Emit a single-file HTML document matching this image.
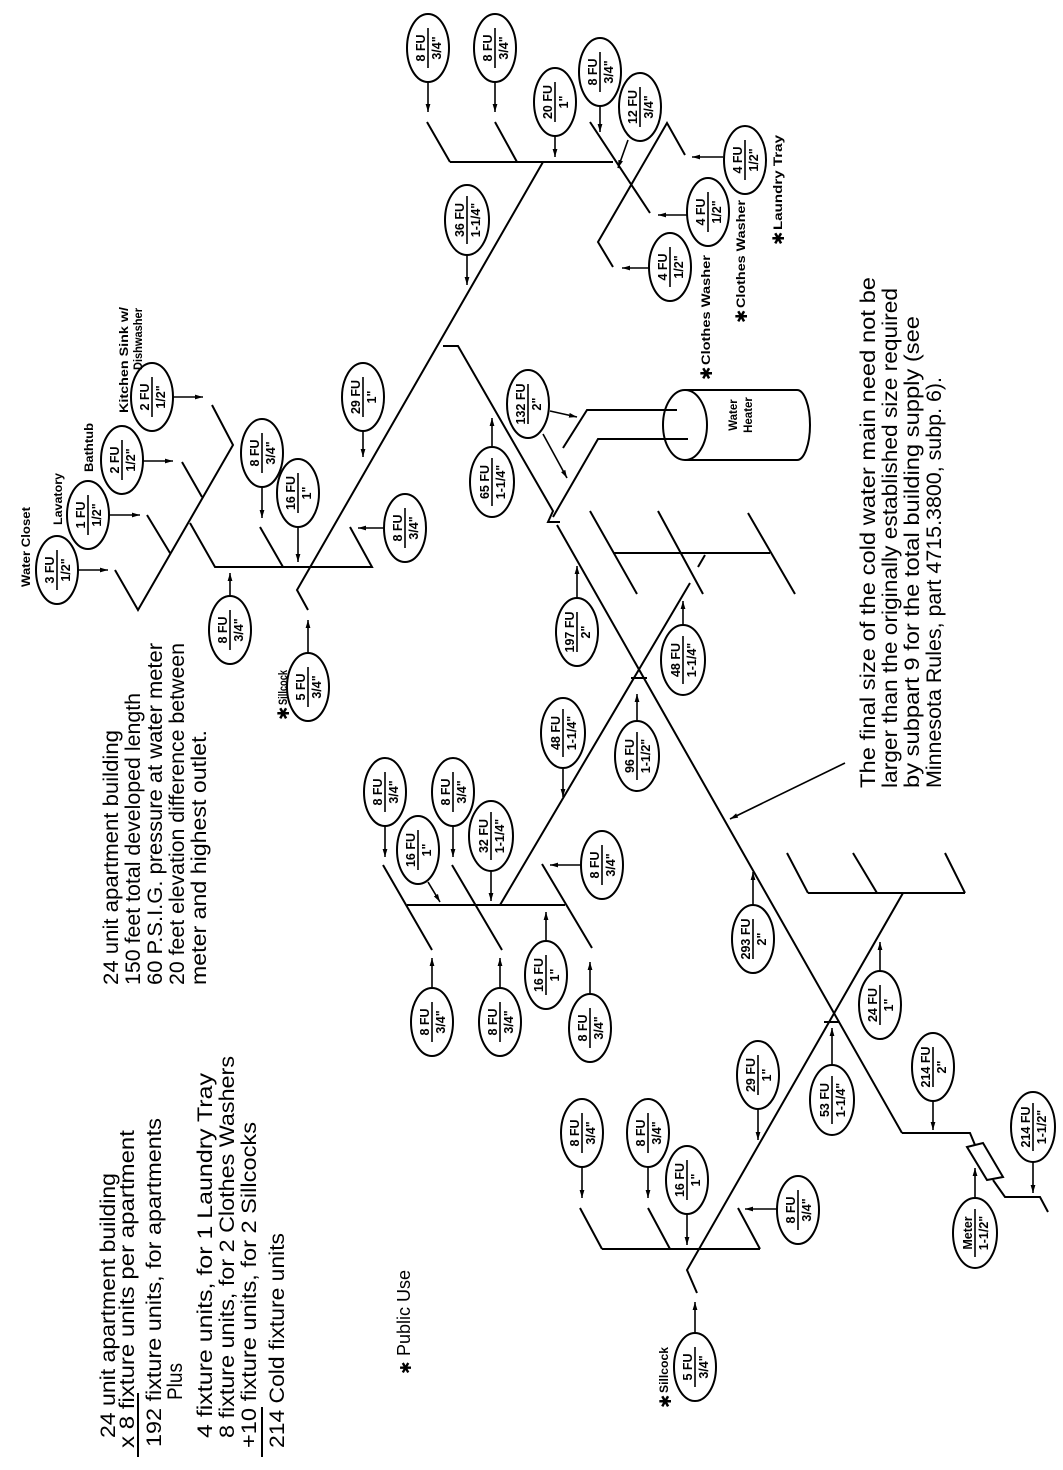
<!DOCTYPE html>
<html><head><meta charset="utf-8"><style>
html,body{margin:0;padding:0;background:#fff;}
svg{display:block;}
.p{fill:none;stroke:#000;stroke-width:2;}
.e ellipse{fill:#fff;stroke:#000;stroke-width:2;}
.e path{stroke:#000;stroke-width:1.6;}
.e text{font-family:"Liberation Sans",sans-serif;font-weight:bold;font-size:12.5px;text-anchor:middle;}
.t{font-family:"Liberation Sans",sans-serif;font-size:21px;}
.s{font-family:"Liberation Sans",sans-serif;font-size:11.5px;font-weight:bold;}
.a{stroke:#000;stroke-width:1.6;marker-end:url(#ah);}
</style></head><body>
<svg width="1063" height="1470" viewBox="0 0 1063 1470" xmlns="http://www.w3.org/2000/svg">
<defs><marker id="ah" viewBox="0 0 10 6" refX="10" refY="3" markerWidth="8" markerHeight="5" orient="auto" markerUnits="userSpaceOnUse"><path d="M0,0L10,3L0,6z" fill="#000"/></marker></defs>
<rect width="1063" height="1470" fill="#fff"/>

<g class="p">
<path d="M450,162H613M427,122L450,162M495,122L517,162M543,162L297,590L308,610"/>
<path d="M590,122L650,213M685,155L667,123L598,242L613,267"/>
<path d="M443,346H458L553,511L548,522H560M557,525L902,1133"/>
<path d="M563,448L587,410H677M553,517L598,439H688"/>
<path d="M613,553H770M590,511L637,594M658,511L703,594M748,513L795,594M698,567L705,555"/>
<path d="M690,583L500,905M631,678H647"/>
<path d="M407,905H565M383,865L432,950M452,865L502,950M542,864L592,948"/>
<path d="M808,893H965M787,853L808,893M853,853L877,893M945,853L965,893M903,893L687,1270L697,1293M824,1022H839"/>
<path d="M902,1133H970L975,1145M993,1180L1005,1197H1040L1048,1212"/>
<polygon points="967,1147 983,1143 1003,1177 987,1180"/>
<path d="M602,1249H760M580,1208L602,1249M648,1208L670,1249M738,1208L760,1249"/>
<path d="M115,570L138,610L233,445L212,405M147,515L170,553M182,462L202,497M190,523L215,567H372L350,527M260,527L283,567"/>
<path d="M685,390H797A13,35 0 0 1 797,460H685"/>
<ellipse cx="685" cy="425" rx="22" ry="35"/>
</g>

<g>
<line class="a" x1="428" y1="82" x2="428" y2="112"/>
<line class="a" x1="495" y1="82" x2="495" y2="112"/>
<line class="a" x1="555" y1="136" x2="555" y2="157"/>
<line class="a" x1="600" y1="106" x2="600" y2="132"/>
<line class="a" x1="628" y1="140" x2="618" y2="168"/>
<line class="a" x1="723" y1="157" x2="692" y2="157"/>
<line class="a" x1="687" y1="215" x2="658" y2="215"/>
<line class="a" x1="649" y1="268" x2="622" y2="268"/>
<line class="a" x1="467" y1="254" x2="467" y2="285"/>
<line class="a" x1="492" y1="448" x2="492" y2="418"/>
<line class="a" x1="550" y1="411" x2="577" y2="417"/>
<line class="a" x1="543" y1="434" x2="567" y2="478"/>
<line class="a" x1="577" y1="598" x2="577" y2="566"/>
<line class="a" x1="683" y1="626" x2="683" y2="601"/>
<line class="a" x1="637" y1="722" x2="637" y2="694"/>
<line class="a" x1="563" y1="769" x2="563" y2="797"/>
<line class="a" x1="581" y1="865" x2="550" y2="865"/>
<line class="a" x1="385" y1="826" x2="385" y2="857"/>
<line class="a" x1="428" y1="882" x2="440" y2="902"/>
<line class="a" x1="453" y1="826" x2="453" y2="857"/>
<line class="a" x1="491" y1="870" x2="491" y2="901"/>
<line class="a" x1="432" y1="988" x2="432" y2="958"/>
<line class="a" x1="500" y1="988" x2="500" y2="958"/>
<line class="a" x1="546" y1="941" x2="546" y2="912"/>
<line class="a" x1="590" y1="994" x2="590" y2="962"/>
<line class="a" x1="753" y1="905" x2="753" y2="872"/>
<line class="a" x1="880" y1="971" x2="880" y2="942"/>
<line class="a" x1="933" y1="1101" x2="933" y2="1130"/>
<line class="a" x1="1033" y1="1161" x2="1033" y2="1193"/>
<line class="a" x1="975" y1="1199" x2="975" y2="1168"/>
<line class="a" x1="832" y1="1066" x2="832" y2="1028"/>
<line class="a" x1="758" y1="1109" x2="758" y2="1140"/>
<line class="a" x1="582" y1="1167" x2="582" y2="1198"/>
<line class="a" x1="648" y1="1167" x2="648" y2="1198"/>
<line class="a" x1="687" y1="1214" x2="687" y2="1245"/>
<line class="a" x1="777" y1="1209" x2="745" y2="1209"/>
<line class="a" x1="695" y1="1333" x2="695" y2="1302"/>
<line class="a" x1="78" y1="570" x2="108" y2="570"/>
<line class="a" x1="110" y1="515" x2="140" y2="515"/>
<line class="a" x1="143" y1="461" x2="173" y2="461"/>
<line class="a" x1="173" y1="397" x2="203" y2="397"/>
<line class="a" x1="262" y1="487" x2="262" y2="518"/>
<line class="a" x1="298" y1="527" x2="298" y2="562"/>
<line class="a" x1="363" y1="431" x2="363" y2="457"/>
<line class="a" x1="230" y1="596" x2="230" y2="573"/>
<line class="a" x1="308" y1="653" x2="308" y2="620"/>
<line class="a" x1="384" y1="528" x2="358" y2="528"/>
<line class="a" x1="845" y1="763" x2="730" y2="819"/>
</g>

<g class="e">
<g transform="translate(428,48)"><ellipse rx="21" ry="34"/><path d="M0-20V20"/><text transform="rotate(-90)" y="-3">8 FU</text><text transform="rotate(-90)" y="13">3/4"</text></g>
<g transform="translate(495,48)"><ellipse rx="21" ry="34"/><path d="M0-20V20"/><text transform="rotate(-90)" y="-3">8 FU</text><text transform="rotate(-90)" y="13">3/4"</text></g>
<g transform="translate(555,102)"><ellipse rx="21" ry="34"/><path d="M0-20V20"/><text transform="rotate(-90)" y="-3">20 FU</text><text transform="rotate(-90)" y="13">1"</text></g>
<g transform="translate(600,72)"><ellipse rx="21" ry="34"/><path d="M0-20V20"/><text transform="rotate(-90)" y="-3">8 FU</text><text transform="rotate(-90)" y="13">3/4"</text></g>
<g transform="translate(640,107)"><ellipse rx="21" ry="34"/><path d="M0-20V20"/><text transform="rotate(-90)" y="-3">12 FU</text><text transform="rotate(-90)" y="13">3/4"</text></g>
<g transform="translate(745,160)"><ellipse rx="21" ry="34"/><path d="M0-20V20"/><text transform="rotate(-90)" y="-3">4 FU</text><text transform="rotate(-90)" y="13">1/2"</text></g>
<g transform="translate(708,212)"><ellipse rx="21" ry="34"/><path d="M0-20V20"/><text transform="rotate(-90)" y="-3">4 FU</text><text transform="rotate(-90)" y="13">1/2"</text></g>
<g transform="translate(670,267)"><ellipse rx="21" ry="34"/><path d="M0-20V20"/><text transform="rotate(-90)" y="-3">4 FU</text><text transform="rotate(-90)" y="13">1/2"</text></g>
<g transform="translate(467,220)"><ellipse rx="22" ry="35"/><path d="M0-24V24"/><text transform="rotate(-90)" y="-3">36 FU</text><text transform="rotate(-90)" y="13">1-1/4"</text></g>
<g transform="translate(492,482)"><ellipse rx="22" ry="35"/><path d="M0-24V24"/><text transform="rotate(-90)" y="-3">65 FU</text><text transform="rotate(-90)" y="13">1-1/4"</text></g>
<g transform="translate(528,404)"><ellipse rx="21" ry="34"/><path d="M0-20V20"/><text transform="rotate(-90)" y="-3">132 FU</text><text transform="rotate(-90)" y="13">2"</text></g>
<g transform="translate(577,632)"><ellipse rx="21" ry="34"/><path d="M0-20V20"/><text transform="rotate(-90)" y="-3">197 FU</text><text transform="rotate(-90)" y="13">2"</text></g>
<g transform="translate(683,660)"><ellipse rx="22" ry="35"/><path d="M0-24V24"/><text transform="rotate(-90)" y="-3">48 FU</text><text transform="rotate(-90)" y="13">1-1/4"</text></g>
<g transform="translate(637,756)"><ellipse rx="22" ry="35"/><path d="M0-24V24"/><text transform="rotate(-90)" y="-3">96 FU</text><text transform="rotate(-90)" y="13">1-1/2"</text></g>
<g transform="translate(563,733)"><ellipse rx="22" ry="35"/><path d="M0-24V24"/><text transform="rotate(-90)" y="-3">48 FU</text><text transform="rotate(-90)" y="13">1-1/4"</text></g>
<g transform="translate(602,865)"><ellipse rx="21" ry="34"/><path d="M0-20V20"/><text transform="rotate(-90)" y="-3">8 FU</text><text transform="rotate(-90)" y="13">3/4"</text></g>
<g transform="translate(385,792)"><ellipse rx="21" ry="34"/><path d="M0-20V20"/><text transform="rotate(-90)" y="-3">8 FU</text><text transform="rotate(-90)" y="13">3/4"</text></g>
<g transform="translate(418,850)"><ellipse rx="21" ry="34"/><path d="M0-20V20"/><text transform="rotate(-90)" y="-3">16 FU</text><text transform="rotate(-90)" y="13">1"</text></g>
<g transform="translate(453,792)"><ellipse rx="21" ry="34"/><path d="M0-20V20"/><text transform="rotate(-90)" y="-3">8 FU</text><text transform="rotate(-90)" y="13">3/4"</text></g>
<g transform="translate(491,836)"><ellipse rx="22" ry="35"/><path d="M0-24V24"/><text transform="rotate(-90)" y="-3">32 FU</text><text transform="rotate(-90)" y="13">1-1/4"</text></g>
<g transform="translate(432,1022)"><ellipse rx="21" ry="34"/><path d="M0-20V20"/><text transform="rotate(-90)" y="-3">8 FU</text><text transform="rotate(-90)" y="13">3/4"</text></g>
<g transform="translate(500,1022)"><ellipse rx="21" ry="34"/><path d="M0-20V20"/><text transform="rotate(-90)" y="-3">8 FU</text><text transform="rotate(-90)" y="13">3/4"</text></g>
<g transform="translate(546,975)"><ellipse rx="21" ry="34"/><path d="M0-20V20"/><text transform="rotate(-90)" y="-3">16 FU</text><text transform="rotate(-90)" y="13">1"</text></g>
<g transform="translate(590,1028)"><ellipse rx="21" ry="34"/><path d="M0-20V20"/><text transform="rotate(-90)" y="-3">8 FU</text><text transform="rotate(-90)" y="13">3/4"</text></g>
<g transform="translate(753,939)"><ellipse rx="21" ry="34"/><path d="M0-20V20"/><text transform="rotate(-90)" y="-3">293 FU</text><text transform="rotate(-90)" y="13">2"</text></g>
<g transform="translate(880,1005)"><ellipse rx="21" ry="34"/><path d="M0-20V20"/><text transform="rotate(-90)" y="-3">24 FU</text><text transform="rotate(-90)" y="13">1"</text></g>
<g transform="translate(933,1067)"><ellipse rx="21" ry="34"/><path d="M0-20V20"/><text transform="rotate(-90)" y="-3">214 FU</text><text transform="rotate(-90)" y="13">2"</text></g>
<g transform="translate(1033,1127)"><ellipse rx="22" ry="35"/><path d="M0-24V24"/><text transform="rotate(-90)" y="-3">214 FU</text><text transform="rotate(-90)" y="13">1-1/2"</text></g>
<g transform="translate(975,1233)"><ellipse rx="22" ry="35"/><path d="M0-24V24"/><text transform="rotate(-90)" y="-3">Meter</text><text transform="rotate(-90)" y="13">1-1/2"</text></g>
<g transform="translate(832,1100)"><ellipse rx="22" ry="35"/><path d="M0-24V24"/><text transform="rotate(-90)" y="-3">53 FU</text><text transform="rotate(-90)" y="13">1-1/4"</text></g>
<g transform="translate(758,1075)"><ellipse rx="21" ry="34"/><path d="M0-20V20"/><text transform="rotate(-90)" y="-3">29 FU</text><text transform="rotate(-90)" y="13">1"</text></g>
<g transform="translate(582,1133)"><ellipse rx="21" ry="34"/><path d="M0-20V20"/><text transform="rotate(-90)" y="-3">8 FU</text><text transform="rotate(-90)" y="13">3/4"</text></g>
<g transform="translate(648,1133)"><ellipse rx="21" ry="34"/><path d="M0-20V20"/><text transform="rotate(-90)" y="-3">8 FU</text><text transform="rotate(-90)" y="13">3/4"</text></g>
<g transform="translate(687,1180)"><ellipse rx="21" ry="34"/><path d="M0-20V20"/><text transform="rotate(-90)" y="-3">16 FU</text><text transform="rotate(-90)" y="13">1"</text></g>
<g transform="translate(798,1210)"><ellipse rx="21" ry="34"/><path d="M0-20V20"/><text transform="rotate(-90)" y="-3">8 FU</text><text transform="rotate(-90)" y="13">3/4"</text></g>
<g transform="translate(695,1367)"><ellipse rx="21" ry="34"/><path d="M0-20V20"/><text transform="rotate(-90)" y="-3">5 FU</text><text transform="rotate(-90)" y="13">3/4"</text></g>
<g transform="translate(57,570)"><ellipse rx="21" ry="34"/><path d="M0-20V20"/><text transform="rotate(-90)" y="-3">3 FU</text><text transform="rotate(-90)" y="13">1/2"</text></g>
<g transform="translate(88,515)"><ellipse rx="21" ry="34"/><path d="M0-20V20"/><text transform="rotate(-90)" y="-3">1 FU</text><text transform="rotate(-90)" y="13">1/2"</text></g>
<g transform="translate(122,460)"><ellipse rx="21" ry="34"/><path d="M0-20V20"/><text transform="rotate(-90)" y="-3">2 FU</text><text transform="rotate(-90)" y="13">1/2"</text></g>
<g transform="translate(152,397)"><ellipse rx="21" ry="34"/><path d="M0-20V20"/><text transform="rotate(-90)" y="-3">2 FU</text><text transform="rotate(-90)" y="13">1/2"</text></g>
<g transform="translate(262,453)"><ellipse rx="21" ry="34"/><path d="M0-20V20"/><text transform="rotate(-90)" y="-3">8 FU</text><text transform="rotate(-90)" y="13">3/4"</text></g>
<g transform="translate(298,493)"><ellipse rx="21" ry="34"/><path d="M0-20V20"/><text transform="rotate(-90)" y="-3">16 FU</text><text transform="rotate(-90)" y="13">1"</text></g>
<g transform="translate(363,397)"><ellipse rx="21" ry="34"/><path d="M0-20V20"/><text transform="rotate(-90)" y="-3">29 FU</text><text transform="rotate(-90)" y="13">1"</text></g>
<g transform="translate(230,630)"><ellipse rx="21" ry="34"/><path d="M0-20V20"/><text transform="rotate(-90)" y="-3">8 FU</text><text transform="rotate(-90)" y="13">3/4"</text></g>
<g transform="translate(308,687)"><ellipse rx="21" ry="34"/><path d="M0-20V20"/><text transform="rotate(-90)" y="-3">5 FU</text><text transform="rotate(-90)" y="13">3/4"</text></g>
<g transform="translate(405,528)"><ellipse rx="21" ry="34"/><path d="M0-20V20"/><text transform="rotate(-90)" y="-3">8 FU</text><text transform="rotate(-90)" y="13">3/4"</text></g>
</g>

<g class="s">
<text transform="translate(30,587) rotate(-90)" textLength="80" lengthAdjust="spacingAndGlyphs">Water Closet</text>
<text transform="translate(62,525) rotate(-90)" textLength="52" lengthAdjust="spacingAndGlyphs">Lavatory</text>
<text transform="translate(93,472) rotate(-90)" textLength="49" lengthAdjust="spacingAndGlyphs">Bathtub</text>
<text transform="translate(128,413) rotate(-90)" textLength="106" lengthAdjust="spacingAndGlyphs">Kitchen Sink w/</text>
<text transform="translate(142,370) rotate(-90)" textLength="62" lengthAdjust="spacingAndGlyphs">Dishwasher</text>
<text transform="translate(287,705) rotate(-90)" textLength="35" lengthAdjust="spacingAndGlyphs">Sillcock</text>
<text transform="translate(668,1393) rotate(-90)" textLength="46" lengthAdjust="spacingAndGlyphs">Sillcock</text>
<text transform="translate(710,365) rotate(-90)" textLength="110" lengthAdjust="spacingAndGlyphs">Clothes Washer</text>
<text transform="translate(745,308) rotate(-90)" textLength="108" lengthAdjust="spacingAndGlyphs">Clothes Washer</text>
<text transform="translate(782,230) rotate(-90)" textLength="95" lengthAdjust="spacingAndGlyphs">Laundry Tray</text>
<text transform="translate(737,415) rotate(-90)" text-anchor="middle">Water</text>
<text transform="translate(752,415) rotate(-90)" text-anchor="middle">Heater</text>
</g>
<g font-family="DejaVu Sans, sans-serif" font-size="16" font-weight="bold">
<text transform="translate(289,720) rotate(-90)">✱</text>
<text transform="translate(671,1408) rotate(-90)">✱</text>
<text transform="translate(712,380) rotate(-90)">✱</text>
<text transform="translate(747,323) rotate(-90)">✱</text>
<text transform="translate(784,245) rotate(-90)">✱</text>
<text transform="translate(411,1374) rotate(-90)" font-size="15">✱</text>
</g>

<g class="t">
<text transform="translate(115,1438) rotate(-90)" textLength="265" lengthAdjust="spacingAndGlyphs">24 unit apartment building</text>
<text transform="translate(134,1448) rotate(-90)" textLength="318" lengthAdjust="spacingAndGlyphs">x 8 fixture units per apartment</text>
<text transform="translate(161,1447) rotate(-90)" textLength="329" lengthAdjust="spacingAndGlyphs">192 fixture units, for apartments</text>
<text transform="translate(182,1400) rotate(-90)" textLength="37" lengthAdjust="spacingAndGlyphs">Plus</text>
<text transform="translate(212,1438) rotate(-90)" textLength="365" lengthAdjust="spacingAndGlyphs">4 fixture units, for 1 Laundry Tray</text>
<text transform="translate(234,1438) rotate(-90)" textLength="382" lengthAdjust="spacingAndGlyphs">8 fixture units, for 2 Clothes Washers</text>
<text transform="translate(256,1448) rotate(-90)" textLength="326" lengthAdjust="spacingAndGlyphs">+10 fixture units, for 2 Sillcocks</text>
<text transform="translate(284,1448) rotate(-90)" textLength="215" lengthAdjust="spacingAndGlyphs">214 Cold fixture units</text>
<text transform="translate(410,1356) rotate(-90)" font-size="18">Public Use</text>

<text transform="translate(118,985) rotate(-90)" textLength="255" lengthAdjust="spacingAndGlyphs">24 unit apartment building</text>
<text transform="translate(140,985) rotate(-90)" textLength="292" lengthAdjust="spacingAndGlyphs">150 feet total developed length</text>
<text transform="translate(162,985) rotate(-90)" textLength="342" lengthAdjust="spacingAndGlyphs">60 P.S.I.G. pressure at water meter</text>
<text transform="translate(184,985) rotate(-90)" textLength="342" lengthAdjust="spacingAndGlyphs">20 feet elevation difference between</text>
<text transform="translate(206,985) rotate(-90)" textLength="255" lengthAdjust="spacingAndGlyphs">meter and highest outlet.</text>

<text transform="translate(875,788) rotate(-90)" textLength="511" lengthAdjust="spacingAndGlyphs">The final size of the cold water main need not be</text>
<text transform="translate(897,788) rotate(-90)" textLength="500" lengthAdjust="spacingAndGlyphs">larger than the originally established size required</text>
<text transform="translate(919,788) rotate(-90)" textLength="472" lengthAdjust="spacingAndGlyphs">by subpart 9 for the total building supply (see</text>
<text transform="translate(941,788) rotate(-90)" textLength="411" lengthAdjust="spacingAndGlyphs">Minnesota Rules, part 4715.3800, subp. 6).</text>
</g>
<g class="p"><path d="M138,1393V1457M262,1407V1457"/></g>
</svg>
</body></html>
